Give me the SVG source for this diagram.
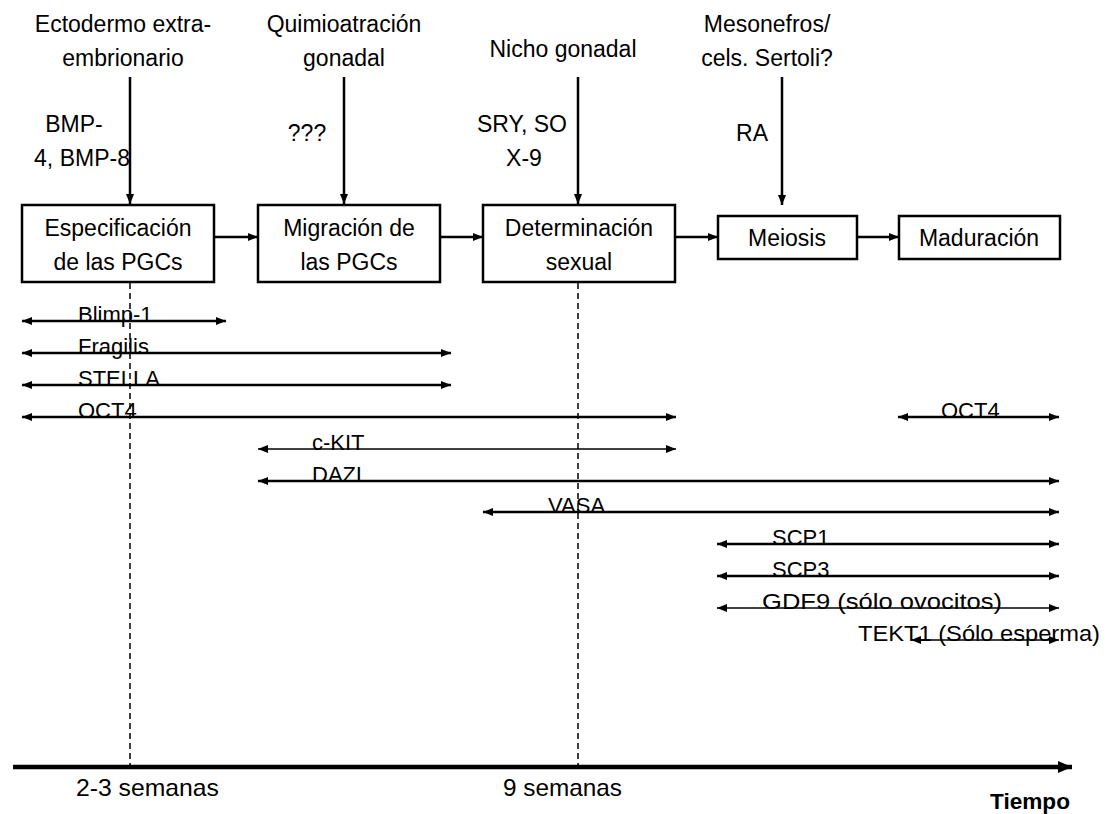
<svg xmlns="http://www.w3.org/2000/svg" width="1106" height="814" viewBox="0 0 1106 814">
<style>
text{font-family:"Liberation Sans",Arial,sans-serif;fill:#000}
.t{font-size:23px;text-anchor:middle}
.g{font-size:22px}
.box{fill:#fff;stroke:#000;stroke-width:2.5}
.ln{stroke:#000;stroke-width:2.5;fill:none}
.thin{stroke:#000;stroke-width:1.6;fill:none}
.dash{stroke:#000;stroke-width:1.5;stroke-dasharray:6,4;fill:none}
</style>
<defs>
<marker id="ah" markerUnits="userSpaceOnUse" markerWidth="11" markerHeight="9" refX="10" refY="4" orient="auto-start-reverse">
<path d="M0,0 L10,4 L0,8 z" fill="#000"/>
</marker>
<marker id="ahb" markerUnits="userSpaceOnUse" markerWidth="16" markerHeight="14" refX="14" refY="6" orient="auto">
<path d="M0,0 L14,6 L0,12 z" fill="#000"/>
</marker>
</defs>

<g id="guides">
<line class="dash" x1="130" y1="283" x2="130" y2="765"/>
<line class="dash" x1="578" y1="283" x2="578" y2="765"/>
</g>

<g id="src-ecto">
<text class="t" x="123" y="32">Ectodermo extra-</text>
<text class="t" x="123" y="66">embrionario</text>
<text class="t" x="74" y="132">BMP-</text>
<text class="t" x="82" y="166">4, BMP-8</text>
</g>
<g id="src-quimio">
<text class="t" x="344" y="32">Quimioatración</text>
<text class="t" x="344" y="66">gonadal</text>
<text class="t" x="307" y="141">???</text>
</g>
<g id="src-nicho">
<text class="t" x="563" y="57">Nicho gonadal</text>
<text class="t" x="522" y="132">SRY, SO</text>
<text class="t" x="524" y="166">X-9</text>
</g>
<g id="src-meso">
<text class="t" x="767" y="32">Mesonefros/</text>
<text class="t" x="767" y="66">cels. Sertoli?</text>
<text class="t" x="752" y="141">RA</text>
</g>

<g id="n1"><rect class="box" x="22" y="205" width="192" height="77"/>
<text class="t" x="118" y="236">Especificación</text><text class="t" x="118" y="270">de las PGCs</text></g>
<g id="n2"><rect class="box" x="258" y="205" width="182" height="77"/>
<text class="t" x="349" y="236">Migración de</text><text class="t" x="349" y="270">las PGCs</text></g>
<g id="n3"><rect class="box" x="483" y="205" width="192" height="77"/>
<text class="t" x="579" y="236">Determinación</text><text class="t" x="579" y="270">sexual</text></g>
<g id="n4"><rect class="box" x="718" y="216" width="139" height="43"/>
<text class="t" x="787" y="246">Meiosis</text></g>
<g id="n5"><rect class="box" x="899" y="216" width="161" height="43"/>
<text class="t" x="979" y="246">Maduración</text></g>

<g id="connectors">
<line class="ln" x1="130" y1="77" x2="130" y2="204" marker-end="url(#ah)"/>
<line class="ln" x1="344" y1="77" x2="344" y2="204" marker-end="url(#ah)"/>
<line class="ln" x1="578" y1="77" x2="578" y2="204" marker-end="url(#ah)"/>
<line class="ln" x1="782" y1="77" x2="782" y2="205" marker-end="url(#ah)"/>
<line class="ln" x1="214" y1="237" x2="258" y2="237" marker-end="url(#ah)"/>
<line class="ln" x1="440" y1="237" x2="483" y2="237" marker-end="url(#ah)"/>
<line class="ln" x1="675" y1="237" x2="718" y2="237" marker-end="url(#ah)"/>
<line class="ln" x1="857" y1="237" x2="899" y2="237" marker-end="url(#ah)"/>
</g>

<g id="genes">
<text class="g" x="78" y="322">Blimp-1</text>
<line class="ln" x1="22" y1="321" x2="226" y2="321" marker-start="url(#ah)" marker-end="url(#ah)"/>
<text class="g" x="78" y="354">Fragilis</text>
<line class="ln" x1="22" y1="353" x2="451" y2="353" marker-start="url(#ah)" marker-end="url(#ah)"/>
<text class="g" x="78" y="386">STELLA</text>
<line class="ln" x1="22" y1="385" x2="451" y2="385" marker-start="url(#ah)" marker-end="url(#ah)"/>
<text class="g" x="78" y="418">OCT4</text>
<line class="ln" x1="22" y1="417" x2="676" y2="417" marker-start="url(#ah)" marker-end="url(#ah)"/>
<text class="g" x="941" y="418">OCT4</text>
<line class="ln" x1="898" y1="417" x2="1059" y2="417" marker-start="url(#ah)" marker-end="url(#ah)"/>
<text class="g" x="312" y="450">c-KIT</text>
<line class="thin" x1="258" y1="449" x2="676" y2="449" marker-start="url(#ah)" marker-end="url(#ah)"/>
<text class="g" x="312" y="482">DAZL</text>
<line class="ln" x1="258" y1="481" x2="1059" y2="481" marker-start="url(#ah)" marker-end="url(#ah)"/>
<text class="g" x="548" y="513">VASA</text>
<line class="ln" x1="483" y1="512" x2="1059" y2="512" marker-start="url(#ah)" marker-end="url(#ah)"/>
<text class="g" x="772" y="545">SCP1</text>
<line class="ln" x1="717" y1="544" x2="1059" y2="544" marker-start="url(#ah)" marker-end="url(#ah)"/>
<text class="g" x="772" y="577">SCP3</text>
<line class="ln" x1="717" y1="576" x2="1059" y2="576" marker-start="url(#ah)" marker-end="url(#ah)"/>
<text class="g" x="762" y="609" textLength="240" lengthAdjust="spacingAndGlyphs">GDF9 (sólo ovocitos)</text>
<line class="thin" x1="717" y1="608" x2="1059" y2="608" marker-start="url(#ah)" marker-end="url(#ah)"/>
<text class="g" x="858" y="641" textLength="242" lengthAdjust="spacingAndGlyphs">TEKT1 (Sólo esperma)</text>
<line class="thin" x1="911" y1="640" x2="1059" y2="640" marker-start="url(#ah)" marker-end="url(#ah)"/>
</g>

<g id="axis">
<line x1="13" y1="767" x2="1072" y2="767" stroke="#000" stroke-width="4.5" marker-end="url(#ahb)"/>
<text x="76" y="796" style="font-size:24px" textLength="143" lengthAdjust="spacingAndGlyphs">2-3 semanas</text>
<text x="503" y="796" style="font-size:24px" textLength="119" lengthAdjust="spacingAndGlyphs">9 semanas</text>
<text x="990" y="809" style="font-size:22px;font-weight:bold" textLength="80" lengthAdjust="spacingAndGlyphs">Tiempo</text>
</g>
</svg>
